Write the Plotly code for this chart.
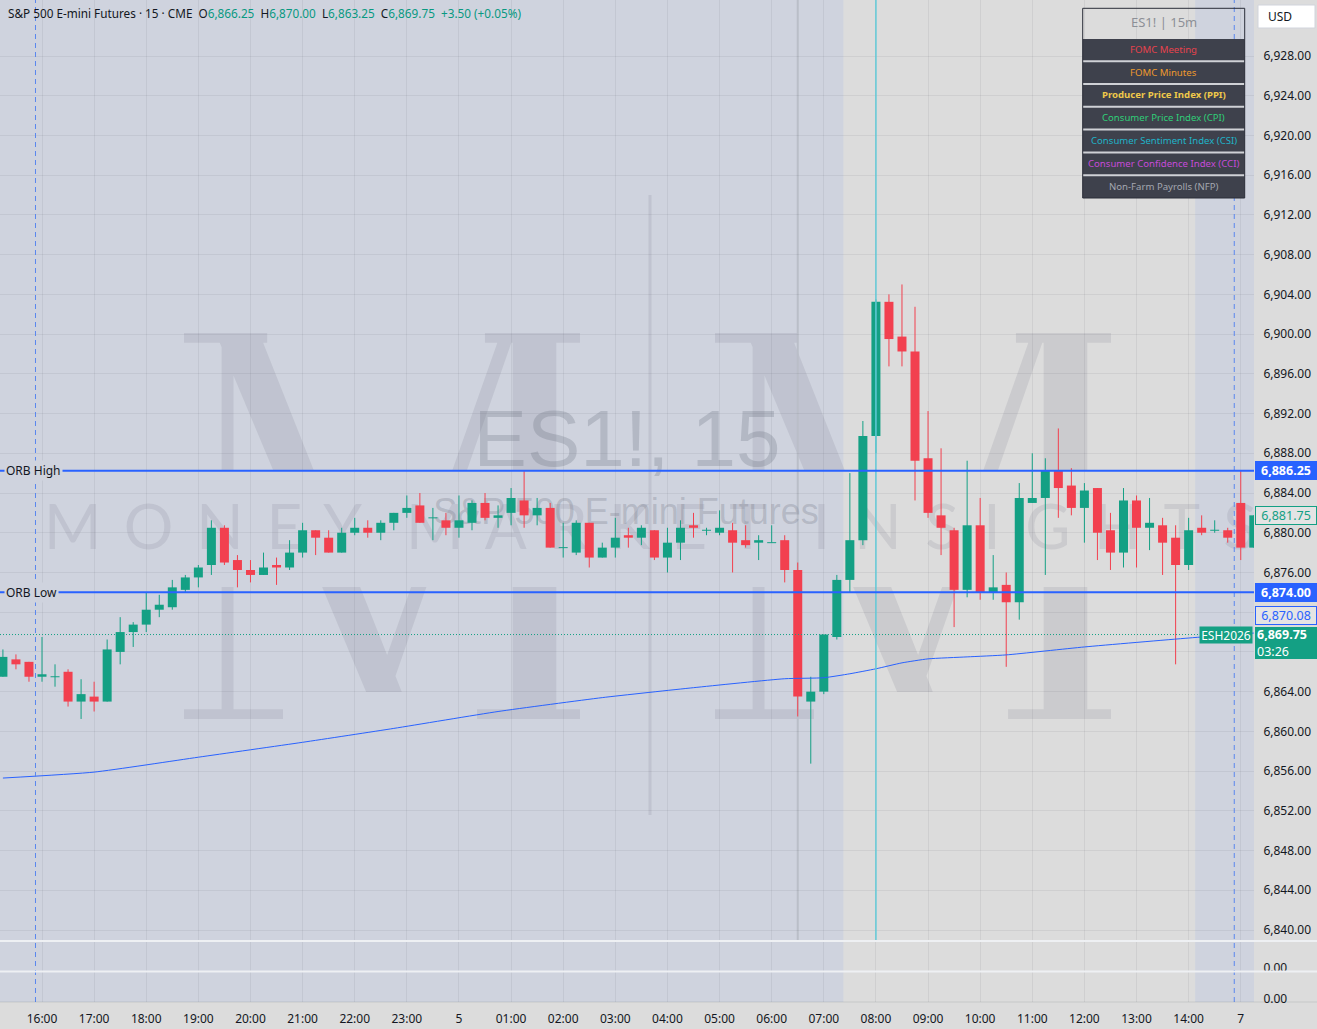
import numpy as np
import pandas as pd
import plotly.graph_objects as go

# ---------------------------------------------------------------- data
bar_time = (pd.date_range("2025-12-04 14:15", periods=3, freq="15min")
            .append(pd.date_range("2025-12-04 16:00", "2025-12-05 14:45", freq="15min"))
            .append(pd.date_range("2025-12-07 16:00", periods=2, freq="15min")))

open_ = [6865.5, 6867.25, 6867.0, 6865.5, 6865.5, 6866.0, 6863.0, 6863.5, 6863.0, 6868.0,
         6870.0, 6870.75, 6872.25, 6872.5, 6874.25, 6875.5, 6876.75, 6880.5, 6877.25, 6876.25,
         6875.75, 6876.75, 6876.5, 6878.0, 6880.25, 6879.5, 6878.0, 6880.0, 6880.5, 6880.0,
         6881.0, 6882.0, 6882.75, 6881.5, 6881.25, 6880.5, 6881.0, 6883.0, 6881.5, 6882.0,
         6883.25, 6881.75, 6882.5, 6878.5, 6878.0, 6881.0, 6877.5, 6878.5, 6879.75, 6879.5,
         6880.25, 6877.5, 6879.0, 6880.75, 6880.25, 6880.0, 6880.25, 6879.25, 6879.0, 6879.0,
         6879.25, 6876.25, 6863.0, 6864.0, 6869.5, 6875.25, 6879.25, 6889.75, 6903.25, 6899.75,
         6898.25, 6887.5, 6881.75, 6880.25, 6874.25, 6880.75, 6874.0, 6874.75, 6873.0, 6883.0,
         6883.5, 6886.25, 6884.75, 6882.5, 6884.5, 6880.25, 6878.0, 6883.25, 6880.5, 6880.75,
         6879.5, 6876.75, 6880.5, 6880.25, 6880.25, 6883.0, 6878.5]
high = [6868.25, 6867.75, 6867.0, 6869.5, 6866.75, 6866.25, 6865.25, 6865.0, 6869.25, 6871.5,
        6871.0, 6874.0, 6873.75, 6875.25, 6875.75, 6876.75, 6881.25, 6880.75, 6877.75, 6877.25,
        6878.0, 6877.5, 6879.25, 6881.0, 6880.25, 6880.25, 6880.5, 6881.5, 6881.25, 6881.25,
        6882.0, 6883.75, 6884.0, 6882.5, 6882.0, 6883.75, 6883.25, 6884.0, 6882.75, 6884.5,
        6886.25, 6883.5, 6883.0, 6881.0, 6881.25, 6881.0, 6879.0, 6881.5, 6880.5, 6880.75,
        6880.25, 6880.5, 6881.25, 6882.0, 6880.5, 6882.25, 6881.0, 6880.75, 6879.75, 6880.75,
        6879.75, 6877.0, 6865.5, 6869.75, 6875.75, 6886.0, 6891.25, 6903.5, 6904.0, 6905.0,
        6902.75, 6892.25, 6888.5, 6880.5, 6887.25, 6883.5, 6877.75, 6876.0, 6885.0, 6888.0,
        6887.5, 6890.5, 6886.5, 6885.0, 6884.5, 6882.0, 6884.5, 6883.75, 6883.5, 6881.5,
        6880.75, 6881.5, 6881.75, 6881.25, 6880.5, 6886.25, 6881.75]
low = [6865.5, 6866.25, 6865.0, 6865.0, 6864.5, 6862.5, 6861.25, 6862.0, 6863.0, 6866.75,
       6868.5, 6870.0, 6871.5, 6872.25, 6874.0, 6874.5, 6875.75, 6876.75, 6874.5, 6875.0,
       6875.75, 6874.75, 6876.25, 6877.5, 6877.75, 6878.0, 6878.0, 6879.75, 6879.5, 6879.25,
       6880.25, 6881.5, 6881.0, 6879.25, 6879.75, 6879.5, 6880.25, 6881.25, 6880.5, 6880.75,
       6880.5, 6880.75, 6878.5, 6877.5, 6877.75, 6876.5, 6877.5, 6877.5, 6878.5, 6878.75,
       6877.25, 6876.0, 6877.25, 6879.5, 6879.75, 6879.75, 6876.0, 6878.5, 6877.25, 6879.0,
       6875.0, 6861.5, 6856.75, 6863.75, 6869.25, 6874.0, 6878.75, 6888.0, 6896.75, 6896.75,
       6883.25, 6881.5, 6877.75, 6870.5, 6873.5, 6873.25, 6873.25, 6866.5, 6871.25, 6883.0,
       6875.75, 6881.5, 6881.75, 6879.0, 6877.25, 6876.25, 6876.5, 6876.5, 6878.25, 6875.75,
       6866.75, 6876.25, 6879.75, 6880.0, 6879.0, 6877.25, 6878.5]
close = [6867.5, 6866.75, 6865.5, 6865.75, 6865.5, 6863.0, 6863.75, 6863.0, 6868.25, 6870.0,
         6870.75, 6872.25, 6872.75, 6874.5, 6875.5, 6876.5, 6880.5, 6877.0, 6876.25, 6875.75,
         6876.5, 6876.5, 6878.0, 6880.25, 6879.5, 6878.0, 6880.0, 6880.5, 6880.0, 6881.0,
         6882.0, 6882.5, 6881.0, 6881.5, 6880.5, 6881.25, 6883.0, 6881.5, 6881.75, 6883.5,
         6881.75, 6882.5, 6878.5, 6878.5, 6881.0, 6877.5, 6878.5, 6879.5, 6879.5, 6880.5,
         6877.5, 6879.0, 6880.5, 6880.5, 6880.25, 6880.5, 6879.0, 6878.75, 6879.25, 6879.0,
         6876.25, 6863.5, 6864.0, 6869.75, 6875.25, 6879.25, 6889.75, 6903.25, 6899.5, 6898.25,
         6887.25, 6882.0, 6880.5, 6874.25, 6880.75, 6874.0, 6874.5, 6873.0, 6883.5, 6883.5,
         6886.25, 6884.5, 6882.5, 6884.25, 6880.0, 6878.0, 6883.25, 6880.5, 6881.0, 6879.0,
         6876.75, 6880.25, 6880.0, 6880.25, 6879.5, 6878.5, 6881.75]

# session VWAP (bar index, value)
vwap_bar = [-3, 4, 12, 20, 27, 35, 43, 50, 57, 60, 62, 64, 66, 68, 71, 74, 80, 88, 93]
vwap_val = [6855.3, 6855.9, 6857.4, 6858.9, 6860.3, 6862.0, 6863.4, 6864.4, 6865.3, 6865.4,
            6865.8, 6866.3, 6866.9, 6867.3, 6867.5, 6867.7, 6868.5, 6869.4, 6869.9]

orb_high = 6886.25
orb_low = 6874.00
last_price = 6869.75
vwap_last = 6870.08
countdown = "03:26"
contract = "ESH2026"
price_ticks = list(range(6840, 6932, 4))

hdr_title = "S&P 500 E-mini Futures · 15 · CME"
hdr_ohlc = [("O", 6866.25), ("H", 6870.00), ("L", 6863.25), ("C", 6869.75)]
hdr_change, hdr_change_pct = 3.50, 0.05

table_title = "ES1! | 15m"
events = ["FOMC Meeting", "FOMC Minutes", "Producer Price Index (PPI)",
          "Consumer Price Index (CPI)", "Consumer Sentiment Index (CSI)",
          "Consumer Confidence Index (CCI)", "Non-Farm Payrolls (NFP)"]
event_colors = ["#e8414d", "#ee9a2c", "#efc94a", "#2fcf78", "#1fb3c8", "#c64bd9", "#a4a7b0"]
event_marks = [("Non-Farm Payrolls (NFP)", "2025-12-05 06:30", "#babec8", 2.0, "below"),
               ("Consumer Sentiment Index (CSI)", "2025-12-05 08:00", "#62cad8", 1.5, "above")]

# ---------------------------------------------------------------- style / geometry
FONT = "Noto Sans, sans-serif"
TXT = "#131722"
UP, DOWN = "#14a084", "#f2404f"
BLUE = "#2962ff"
BG = "#dcdcdc"
BLUE_BG = "#cfd3de"
GRID = "rgba(42,46,57,0.07)"
WM = "rgba(105,110,125,0.15)"
W, H = 1317, 1029
PW, PH = 1254, 1002
MAIN_B = 940
SUB1 = (942, 971)
SUB2 = (972, 1002)
BAR_PX, X0_PX = 13.03, 42.0
PX_PER_PT, REF_P, REF_PX = 9.932, 6928.0, 56.0

xr = [(0 - X0_PX) / BAR_PX, (PW - X0_PX) / BAR_PX]
yr = [REF_P - (MAIN_B - REF_PX) / PX_PER_PT, REF_P + REF_PX / PX_PER_PT]


def fx(px):
    return px / PW


def fy(py):
    return 1 - py / PH


def dx(px):
    return xr[0] + px / PW * (xr[1] - xr[0])


def dy(py):
    return yr[1] - py / MAIN_B * (yr[1] - yr[0])


n = len(bar_time)
i0 = list(bar_time).index(pd.Timestamp("2025-12-04 16:00"))
idx = np.arange(n) - i0

# x ticks
tick_idx, tick_txt = [], []
for k in range(n):
    t = bar_time[k]
    if t.minute == 0 and idx[k] >= 0 and idx[k] % 4 == 0:
        new_day = k > 0 and t.date() != bar_time[k - 1].date()
        tick_idx.append(int(idx[k]))
        tick_txt.append(str(t.day) if new_day else t.strftime("%H:%M"))

# y tick text; the label fully hidden behind the last-price box is left blank
box_top = last_price + 8 / PX_PER_PT
box_bot = last_price - 22 / PX_PER_PT
price_text = ["" if box_bot < p < box_top else f"{p:,.2f}" for p in price_ticks]

# ---------------------------------------------------------------- traces
fig = go.Figure()

# watermark text (beneath candles)
fig.add_trace(go.Scatter(x=[dx(627)], y=[dy(446)], mode="text", text=["ES1!, 15"],
                         textfont=dict(family="Liberation Sans, Arial", size=80,
                                       color="rgba(105,110,125,0.27)"),
                         hoverinfo="skip"))
fig.add_trace(go.Scatter(x=[dx(626)], y=[dy(515)], mode="text", text=["S&P 500 E-mini Futures"],
                         textfont=dict(family="Liberation Sans, Arial", size=36,
                                       color="rgba(105,110,125,0.27)"),
                         hoverinfo="skip"))
letter_w = {"M": .9, "O": .78, "N": .76, "E": .56, "Y": .55, "A": .63, "R": .62, "K": .6,
            "T": .56, "I": .3, "S": .55, "G": .74, "H": .75}
wm_fs = 62
words = ["MONEY", "MARKET", "INSIGHTS"]
tot = sum(letter_w[c] for w_ in words for c in w_) * wm_fs
ngaps = sum(len(w_) for w_ in words) - 1 + 2
gap = (1212 - tot) / ngaps
lx, ly, lt = [], [], []
cur = 45.0
for wi, w_ in enumerate(words):
    if wi > 0:
        cur += gap
    for ci, c in enumerate(w_):
        if ci > 0 or wi > 0:
            cur += gap
        wpx = letter_w[c] * wm_fs
        lx.append(dx(cur + wpx / 2))
        ly.append(dy(533))
        lt.append(c)
        cur += wpx
fig.add_trace(go.Scatter(x=lx, y=ly, mode="text", text=lt,
                         textfont=dict(family="Lato, Noto Sans", size=wm_fs,
                                       color="rgba(105,110,125,0.15)"),
                         hoverinfo="skip"))

# candles
up_w, dn_w, up_b, dn_b = ([], []), ([], []), ([], []), ([], [])
for k in range(n):
    o, h_, l_, c = open_[k], high[k], low[k], close[k]
    up = c >= o
    wx, wy = up_w if up else dn_w
    wx += [idx[k], idx[k], None]
    wy += [l_, h_, None]
    bx, by = up_b if up else dn_b
    lo_, hi_ = min(o, c), max(o, c)
    if hi_ - lo_ < 0.1:
        mid = (hi_ + lo_) / 2
        lo_, hi_ = mid - 0.05, mid + 0.05
    bx += [idx[k], idx[k], None]
    by += [lo_, hi_, None]

for (xx, yy), col in [(up_w, UP), (dn_w, DOWN)]:
    fig.add_trace(go.Scatter(x=xx, y=yy, mode="lines", line=dict(color=col, width=1),
                             hoverinfo="skip"))
for (xx, yy), col in [(up_b, UP), (dn_b, DOWN)]:
    fig.add_trace(go.Scatter(x=xx, y=yy, mode="lines", line=dict(color=col, width=9),
                             hoverinfo="skip"))

# VWAP
fig.add_trace(go.Scatter(x=vwap_bar, y=vwap_val, mode="lines",
                         line=dict(color=BLUE, width=1, shape="spline", smoothing=0.5),
                         hoverinfo="skip"))

# empty indicator panes
for ya in ["y2", "y3"]:
    fig.add_trace(go.Scatter(x=[idx[0]], y=[0], yaxis=ya, mode="lines",
                             line=dict(color="rgba(0,0,0,0)"), hoverinfo="skip"))

# ---------------------------------------------------------------- shapes
shapes = []
# non-RTH shading
mins = [t.hour * 60 + t.minute for t in bar_time]
rth = [450 <= m < 855 for m in mins]
k = 0
while k < n:
    if not rth[k]:
        s = k
        while k < n and not rth[k]:
            k += 1
        x0 = max(idx[s] - 0.5, xr[0])
        x1 = min(idx[k - 1] + 0.5, xr[1]) if k < n else xr[1]
        shapes.append(dict(type="rect", xref="x", yref="paper", x0=x0, x1=x1, y0=0, y1=1,
                           fillcolor=BLUE_BG, line_width=0, layer="below"))
    else:
        k += 1

# watermark logo: tall serif "M" pair with a cut-out text band
strokes = [
    (0.0, 0.025, 0.0, 0.21, 0.0, 0.21),
    (0.0, 1.0, 0.095, 0.125, 0.095, 0.125),
    (0.0, 0.93, 0.08, 0.19, 0.46, 0.55),
    (0.0, 0.93, 0.80, 0.835, 0.48, 0.52),
    (0.0, 1.0, 0.83, 0.94, 0.83, 0.94),
    (0.0, 0.025, 0.76, 1.0, 0.76, 1.0),
    (0.975, 1.0, 0.0, 0.25, 0.0, 0.25),
    (0.975, 1.0, 0.74, 1.0, 0.74, 1.0),
]
M_Y0, M_H, M_W = 333.0, 386.0, 396.0
bands = [(0.0, (470 - M_Y0) / M_H), ((587 - M_Y0) / M_H, 1.0)]
parts = []
for X0 in (184.0, 715.0):
    for (v0, v1, a0, b0, a1, b1) in strokes:
        for lo, hi in bands:
            s_, e_ = max(v0, lo), min(v1, hi)
            if e_ <= s_:
                continue

            def xs(v):
                t = (v - v0) / (v1 - v0)
                return a0 + t * (a1 - a0), b0 + t * (b1 - b0)
            l0, r0 = xs(s_)
            l1, r1 = xs(e_)
            pts = [(l0, s_), (r0, s_), (r1, e_), (l1, e_)]
            parts.append("M " + " L ".join(
                f"{fx(X0 + u * M_W):.5f},{fy(M_Y0 + v * M_H):.5f}" for u, v in pts) + " Z")
shapes.append(dict(type="path", path=" ".join(parts), xref="paper", yref="paper",
                   fillcolor=WM, line_width=0, layer="below", fillrule="nonzero"))
shapes.append(dict(type="line", xref="paper", yref="paper", x0=fx(650), x1=fx(650),
                   y0=fy(815), y1=fy(195), line=dict(color=WM, width=3), layer="below"))

# event marker lines
for name, ts, col, wd, lay in event_marks:
    xi = int(idx[list(bar_time).index(pd.Timestamp(ts))])
    shapes.append(dict(type="line", xref="x", yref="paper", x0=xi, x1=xi,
                       y0=fy(MAIN_B), y1=1, line=dict(color=col, width=wd), layer=lay))

# session breaks
for k in range(1, n):
    if bar_time[k] - bar_time[k - 1] > pd.Timedelta("15min"):
        b = idx[k] - 0.5
        shapes.append(dict(type="line", xref="x", yref="paper", x0=b, x1=b, y0=0, y1=1,
                           line=dict(color="#5a86ee", width=1, dash="5px,4px")))

# ORB lines and last price
for lvl in (orb_high, orb_low):
    shapes.append(dict(type="line", xref="paper", yref="y", x0=0, x1=1, y0=lvl, y1=lvl,
                       line=dict(color=BLUE, width=2)))
shapes.append(dict(type="line", xref="paper", yref="y", x0=0, x1=1, y0=last_price,
                   y1=last_price, line=dict(color=UP, width=1, dash="1px,2px")))

# pane separators
for py, col, wd in [(941, "#eef0f3", 2), (971.5, "#eef0f3", 2), (1002, "rgba(42,46,57,0.12)", 1)]:
    shapes.append(dict(type="line", xref="paper", yref="paper", x0=0, x1=W / PW,
                       y0=fy(py), y1=fy(py), line=dict(color=col, width=wd)))

# event table
TB_L, TB_R, TB_T, TB_B = 1082.7, 1244.7, 8.3, 198.0
ROW_T, ROW_H = 39.0, 22.8
shapes.append(dict(type="rect", xref="paper", yref="paper", x0=fx(TB_L), x1=fx(TB_R),
                   y0=fy(TB_B), y1=fy(ROW_T), fillcolor="#3e414c", line_width=0))
for r in range(1, len(events)):
    py = ROW_T + r * ROW_H - 0.6
    shapes.append(dict(type="line", xref="paper", yref="paper", x0=fx(TB_L), x1=fx(TB_R),
                       y0=fy(py), y1=fy(py), line=dict(color="#cfd1d6", width=2)))
shapes.append(dict(type="rect", xref="paper", yref="paper", x0=fx(TB_L), x1=fx(TB_R),
                   y0=fy(TB_B), y1=fy(TB_T), line=dict(color="#2a2e39", width=1)))
# USD box
shapes.append(dict(type="rect", xref="paper", yref="paper", x0=fx(1258), x1=fx(1315),
                   y0=fy(28), y1=fy(5), fillcolor="#ffffff", line=dict(color="#d1d4dc", width=1)))

# ---------------------------------------------------------------- annotations
ann = []
g = "#089981"
hdr = hdr_title + "\u00a0\u00a0"
for lab, val in hdr_ohlc:
    hdr += f"{lab}<span style='color:{g}'>{val:,.2f}</span>\u00a0\u00a0"
hdr += f"<span style='color:{g}'>{hdr_change:+.2f} ({hdr_change_pct:+.2f}%)</span>"
ann.append(dict(xref="paper", yref="paper", x=fx(6), y=fy(13.5), xanchor="left",
                yanchor="middle", text=hdr, showarrow=False, font=dict(size=11.75, color=TXT)))

for lab, lvl in [("ORB High", orb_high), ("ORB Low", orb_low)]:
    ann.append(dict(xref="paper", yref="y", x=fx(4), y=lvl, xanchor="left", yanchor="middle",
                    text=lab, showarrow=False, font=dict(size=12, color=TXT),
                    bgcolor=BLUE_BG, borderpad=1))


def pbox(text, y, bg, fg, border, yanchor="middle", yshift=0, h=15, align="center"):
    return dict(xref="paper", yref="y", x=1.0, y=y, xanchor="left", yanchor=yanchor,
                xshift=1, yshift=yshift, text=text, showarrow=False,
                font=dict(size=12.5, color=fg), bgcolor=bg, bordercolor=border,
                borderwidth=1, borderpad=1, width=58, height=h, align=align)


ann.append(pbox(f"<b>{orb_high:,.2f}</b>", orb_high, BLUE, "#ffffff", BLUE))
ann.append(pbox(f"<b>{orb_low:,.2f}</b>", orb_low, BLUE, "#ffffff", BLUE))
ann.append(pbox(f"{close[-1]:,.2f}", close[-1], "#e4e4e4", UP, UP))
ann.append(pbox(f"{vwap_last:,.2f}", last_price, "#e4e4e4", BLUE, BLUE,
                yanchor="bottom", yshift=10))
ann.append(pbox(f"<b>{last_price:,.2f}</b><br>{countdown}", last_price, UP, "#ffffff", UP,
                yanchor="top", yshift=8, h=28, align="left"))
ann.append(dict(xref="paper", yref="y", x=1.0, y=last_price, xanchor="right", yanchor="middle",
                xshift=-1, text=contract, showarrow=False, font=dict(size=12, color="#ffffff"),
                bgcolor=UP, borderpad=1, width=50, height=14))

# table texts
ann.append(dict(xref="paper", yref="paper", x=fx((TB_L + TB_R) / 2), y=fy(22.5),
                xanchor="center", yanchor="middle", text=table_title, showarrow=False,
                font=dict(size=13, color="#8c8f96")))
for r, (ev, col) in enumerate(zip(events, event_colors)):
    txt = f"<b>{ev}</b>" if "PPI" in ev else ev
    ann.append(dict(xref="paper", yref="paper", x=fx((TB_L + TB_R) / 2),
                    y=fy(ROW_T + r * ROW_H + 10.4), xanchor="center", yanchor="middle",
                    text=txt, showarrow=False, font=dict(size=9.6, color=col)))
ann.append(dict(xref="paper", yref="paper", x=fx(1266), y=fy(16.5), xanchor="left",
                yanchor="middle", text="USD", showarrow=False, font=dict(size=12, color=TXT)))

# ---------------------------------------------------------------- layout
fig.update_layout(
    width=W, height=H, margin=dict(l=0, r=W - PW, t=0, b=H - PH),
    paper_bgcolor=BG, plot_bgcolor=BG, showlegend=False, hovermode=False,
    font=dict(family=FONT, size=12, color=TXT),
    shapes=shapes, annotations=ann,
    xaxis=dict(domain=[0, 1], range=xr, anchor="y3", tickvals=tick_idx, ticktext=tick_txt,
               showgrid=True, gridcolor=GRID, gridwidth=1, zeroline=False, showline=False,
               ticks="outside", ticklen=6, tickcolor="rgba(0,0,0,0)",
               tickfont=dict(size=12, color=TXT), fixedrange=True),
    yaxis=dict(domain=[fy(MAIN_B), 1], range=yr, side="right", anchor="x",
               tickvals=price_ticks, ticktext=price_text, showgrid=True, gridcolor=GRID,
               zeroline=False, showline=False, ticks="outside", ticklen=6,
               tickcolor="rgba(0,0,0,0)", tickfont=dict(size=12, color=TXT), fixedrange=True),
    yaxis2=dict(domain=[fy(SUB1[1]), fy(SUB1[0])],
                range=[-3 / 29, 26 / 29], side="right", anchor="x", tickvals=[0],
                ticktext=["0.00"], showgrid=False, zeroline=False, ticks="outside", ticklen=6,
                tickcolor="rgba(0,0,0,0)", tickfont=dict(size=12, color=TXT), fixedrange=True),
    yaxis3=dict(domain=[0, fy(SUB2[0])],
                range=[-0.1, 0.9], side="right", anchor="x", tickvals=[0],
                ticktext=["0.00"], showgrid=False, zeroline=False, ticks="outside", ticklen=6,
                tickcolor="rgba(0,0,0,0)", tickfont=dict(size=12, color=TXT), fixedrange=True),
)

# page body has a default 8px margin; remove it so the figure fills the window
fig.write_html("out.html", config={"displayModeBar": False},
               post_script="document.body.style.margin='0';document.body.style.background='#dcdcdc';")
